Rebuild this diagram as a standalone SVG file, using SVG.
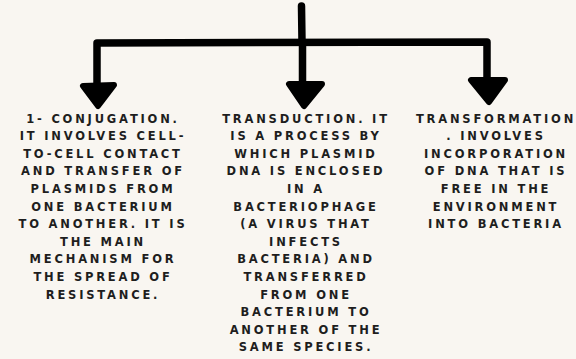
<svg xmlns="http://www.w3.org/2000/svg" width="576" height="359" viewBox="0 0 576 359">
<style>
.t{font-family:"DejaVu Sans",sans-serif;font-weight:700;font-size:11.5px;letter-spacing:2.8px;fill:#1e1e1e;text-anchor:middle}
.c{fill:none;stroke:#000;stroke-width:7.5;stroke-linecap:round;stroke-linejoin:round}
.h{fill:#000;stroke:#000;stroke-width:6;stroke-linejoin:round}
</style>
<rect width="576" height="359" fill="#f9f6f1"/>
<g id="connectors">
<path class="c" d="M301.5 6 L302 42"/>
<path class="c" d="M97 84 L97 43 L487 42 L487 78"/>
<path class="c" d="M302.5 42 L302.5 82"/>
<polygon class="h" points="83,86 114,85 98,106"/>
<polygon class="h" points="289,84 322,84 304,106"/>
<polygon class="h" points="471,80 505,80 489,102"/>
</g>
<g id="node1">
<text class="t" x="103" y="122.5">1- CONJUGATION.</text>
<text class="t" x="103" y="140.1">IT INVOLVES CELL-</text>
<text class="t" x="103" y="157.7">TO-CELL CONTACT</text>
<text class="t" x="103" y="175.3">AND TRANSFER OF</text>
<text class="t" x="103" y="192.9">PLASMIDS FROM</text>
<text class="t" x="103" y="210.5">ONE BACTERIUM</text>
<text class="t" x="103" y="228.1">TO ANOTHER. IT IS</text>
<text class="t" x="103" y="245.7">THE MAIN</text>
<text class="t" x="103" y="263.3">MECHANISM FOR</text>
<text class="t" x="103" y="280.9">THE SPREAD OF</text>
<text class="t" x="103" y="298.5">RESISTANCE.</text>
</g>
<g id="node2">
<text class="t" x="306" y="122.5">TRANSDUCTION. IT</text>
<text class="t" x="306" y="140.1">IS A PROCESS BY</text>
<text class="t" x="306" y="157.7">WHICH PLASMID</text>
<text class="t" x="306" y="175.3">DNA IS ENCLOSED</text>
<text class="t" x="306" y="192.9">IN A</text>
<text class="t" x="306" y="210.5">BACTERIOPHAGE</text>
<text class="t" x="306" y="228.1">(A VIRUS THAT</text>
<text class="t" x="306" y="245.7">INFECTS</text>
<text class="t" x="306" y="263.3">BACTERIA) AND</text>
<text class="t" x="306" y="280.9">TRANSFERRED</text>
<text class="t" x="306" y="298.5">FROM ONE</text>
<text class="t" x="306" y="316.1">BACTERIUM TO</text>
<text class="t" x="306" y="333.7">ANOTHER OF THE</text>
<text class="t" x="306" y="351.3">SAME SPECIES.</text>
</g>
<g id="node3">
<text class="t" x="496" y="122.5">TRANSFORMATION</text>
<text class="t" x="496" y="140.1">. INVOLVES</text>
<text class="t" x="496" y="157.7">INCORPORATION</text>
<text class="t" x="496" y="175.3">OF DNA THAT IS</text>
<text class="t" x="496" y="192.9">FREE IN THE</text>
<text class="t" x="496" y="210.5">ENVIRONMENT</text>
<text class="t" x="496" y="228.1">INTO BACTERIA</text>
</g>
</svg>
